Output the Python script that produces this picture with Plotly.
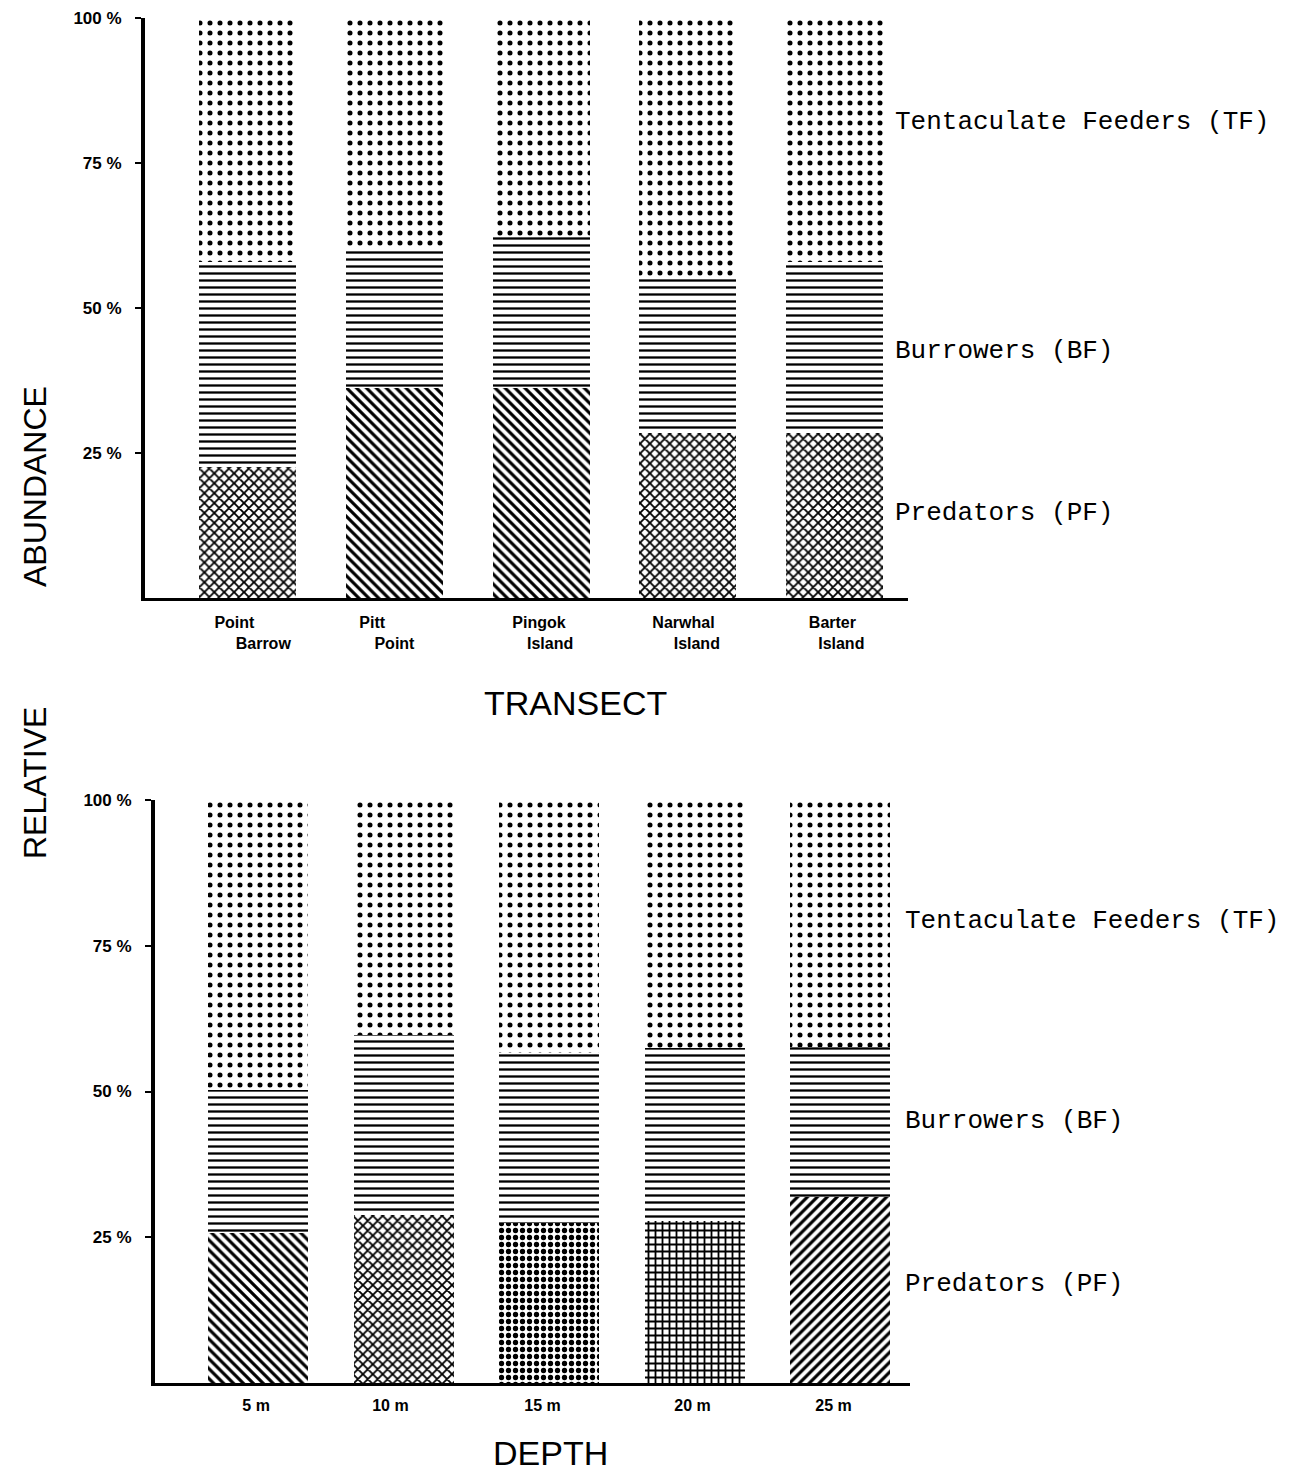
import plotly.graph_objects as go

# ---- data (percent of each segment) ----
transects = ["Point Barrow", "Pitt Point", "Pingok Island", "Narwhal Island", "Barter Island"]
transect_ticks = [
    "Point\u00a0\u00a0\u00a0\u00a0\u00a0\u00a0<br>\u00a0\u00a0\u00a0\u00a0\u00a0\u00a0\u00a0Barrow",
    "Pitt\u00a0\u00a0\u00a0\u00a0\u00a0\u00a0\u00a0\u00a0\u00a0\u00a0<br>Point",
    "Pingok\u00a0<br>\u00a0\u00a0\u00a0\u00a0Island",
    "Narwhal\u00a0\u00a0<br>\u00a0\u00a0\u00a0\u00a0Island",
    "Barter\u00a0<br>\u00a0\u00a0\u00a0Island",
]
pf_transect = [22.6, 36.2, 36.2, 28.4, 28.4]
bf_transect = [35.3, 24.3, 26.0, 26.9, 29.5]
tf_transect = [42.1, 39.5, 37.8, 44.7, 42.1]

depths = ["5 m", "10 m", "15 m", "20 m", "25 m"]
depth_ticks = ["5 m\u00a0", "10 m\u00a0\u00a0\u00a0\u00a0\u00a0\u00a0", "15 m\u00a0\u00a0\u00a0", "20 m\u00a0", "25 m\u00a0\u00a0\u00a0"]
pf_depth = [25.7, 28.8, 27.4, 27.8, 31.9]
bf_depth = [24.6, 30.9, 29.2, 29.7, 25.8]
tf_depth = [49.7, 40.3, 43.4, 42.5, 42.3]

y_tickvals = [25, 50, 75, 100]
y_ticktext = ["25 %", "50 %", "75 %", "100 %"]

group_labels = ["Tentaculate Feeders (TF)", "Burrowers (BF)", "Predators (PF)"]

pf_shapes_top = ["x", "\\", "\\", "x", "x"]
pf_shapes_bot = ["\\", "x", ".", "+", "/"]

fig = go.Figure()
xpos = list(range(5))

def add_stack(xaxis, yaxis, pf, bf, tf, pf_shapes, width):
    fig.add_trace(go.Bar(
        x=xpos, y=pf, width=width, xaxis=xaxis, yaxis=yaxis,
        marker=dict(color="white", line=dict(width=0),
                    pattern=dict(shape=pf_shapes, fgcolor="black", bgcolor="white",
                                 fgopacity=1, size=7, solidity=0.45, fillmode="overlay")),
        showlegend=False, hoverinfo="skip"))
    fig.add_trace(go.Bar(
        x=xpos, y=bf, width=width, xaxis=xaxis, yaxis=yaxis,
        marker=dict(color="white", line=dict(width=0),
                    pattern=dict(shape="-", fgcolor="black", bgcolor="white",
                                 fgopacity=1, size=7, solidity=0.33, fillmode="overlay")),
        showlegend=False, hoverinfo="skip"))
    fig.add_trace(go.Bar(
        x=xpos, y=tf, width=width, xaxis=xaxis, yaxis=yaxis,
        marker=dict(color="white", line=dict(width=0),
                    pattern=dict(shape=".", fgcolor="black", bgcolor="white",
                                 fgopacity=1, size=10, solidity=0.2, fillmode="overlay")),
        showlegend=False, hoverinfo="skip"))

add_stack("x", "y", pf_transect, bf_transect, tf_transect, pf_shapes_top, 0.66)
add_stack("x2", "y2", pf_depth, bf_depth, tf_depth, pf_shapes_bot, 0.69)

H = 1472
W = 1298
tickfont = dict(family="Liberation Sans", size=16, color="black", weight="bold")

common_y = dict(range=[0, 100], tickvals=y_tickvals, ticktext=y_ticktext,
                showline=True, linewidth=4, linecolor="black", ticks="outside",
                ticklen=6, tickwidth=2, tickcolor="black", showgrid=False,
                zeroline=False, automargin=False,
                tickfont=dict(family="Liberation Sans", size=17, color="black", weight="bold"),
                ticklabelstandoff=10)

fig.update_layout(
    width=W, height=H, margin=dict(l=0, r=0, t=0, b=0),
    paper_bgcolor="white", plot_bgcolor="white", barmode="stack", bargap=0,
    xaxis=dict(domain=[145 / W, 908 / W], anchor="y", range=[-0.70, 4.50],
               tickvals=xpos, ticktext=transect_ticks, showline=True, linewidth=3,
               linecolor="black", ticks="", showgrid=False, zeroline=False,
               automargin=False, tickfont=tickfont, ticklabelstandoff=8),
    yaxis=dict(domain=[1 - 598 / H, 1 - 18 / H], anchor="x", **common_y),
    xaxis2=dict(domain=[155 / W, 910 / W], anchor="y2", range=[-0.71, 4.48],
                tickvals=xpos, ticktext=depth_ticks, showline=True, linewidth=3,
                linecolor="black", ticks="", showgrid=False, zeroline=False,
                automargin=False, tickfont=tickfont, ticklabelstandoff=6),
    yaxis2=dict(domain=[1 - 1383 / H, 1 - 800 / H], anchor="x2", **common_y),
)

label_font = dict(family="Liberation Mono", size=26, color="black")
top_label_y = [82, 42.6, 14.7]
bot_label_y = [79.2, 45.0, 17.0]
for txt, yv in zip(group_labels, top_label_y):
    fig.add_annotation(x=4.40, y=yv, xref="x", yref="y", text=txt, showarrow=False,
                       xanchor="left", yanchor="middle", font=label_font)
for txt, yv in zip(group_labels, bot_label_y):
    fig.add_annotation(x=4.43, y=yv, xref="x2", yref="y2", text=txt, showarrow=False,
                       xanchor="left", yanchor="middle", font=label_font)

title_font = dict(family="Liberation Sans", size=34, color="black")
fig.add_annotation(x=575 / W, y=1 - 703 / H, xref="paper", yref="paper", text="TRANSECT",
                   showarrow=False, xanchor="center", yanchor="middle", font=title_font)
fig.add_annotation(x=550 / W, y=1 - 1453 / H, xref="paper", yref="paper", text="DEPTH",
                   showarrow=False, xanchor="center", yanchor="middle", font=title_font)
fig.add_annotation(x=35 / W, y=1 - 487 / H, xref="paper", yref="paper", text="ABUNDANCE",
                   showarrow=False, textangle=-90, xanchor="center", yanchor="middle",
                   font=dict(family="Liberation Sans", size=32, color="black"))
fig.add_annotation(x=35 / W, y=1 - 783 / H, xref="paper", yref="paper", text="RELATIVE",
                   showarrow=False, textangle=-90, xanchor="center", yanchor="middle",
                   font=dict(family="Liberation Sans", size=32, color="black"))

fig.write_html("out.html")
